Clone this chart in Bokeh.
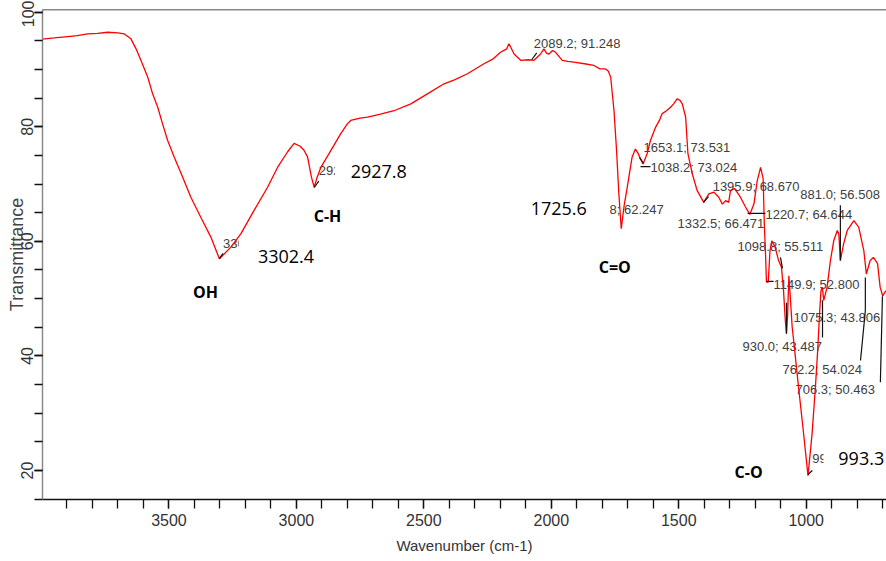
from bokeh.plotting import figure
from bokeh.models import Range1d, FixedTicker, Span
from bokeh.core.properties import value
from bokeh.embed import file_html
from bokeh.resources import INLINE

# ---------------- data ----------------
wavenumber = [3996, 3950, 3897, 3860, 3819, 3780, 3740, 3700, 3675, 3649, 3629, 3610,
              3583, 3564, 3544, 3525, 3505, 3479, 3446, 3414, 3375, 3335, 3302, 3257,
              3218, 3166, 3113, 3074, 3035, 3009, 2985, 2970, 2956, 2941, 2930, 2920,
              2904, 2865, 2826, 2800, 2787, 2750, 2721, 2670, 2617, 2551, 2486, 2421,
              2380, 2329, 2264, 2230, 2199, 2175, 2166, 2158, 2146, 2120, 2090, 2068,
              2042, 2029, 2018, 2009, 1995, 1983, 1957, 1935, 1911, 1870, 1833, 1809,
              1787, 1776, 1767, 1754, 1744, 1735, 1725.6, 1715, 1702, 1683, 1670, 1660,
              1653, 1640, 1624, 1611, 1591, 1575, 1565, 1548, 1532, 1520, 1506, 1495,
              1486, 1473, 1464, 1447, 1428, 1402, 1382, 1362, 1343, 1329, 1316, 1304,
              1297, 1281, 1258, 1238, 1221, 1205, 1192, 1179, 1169, 1164, 1160, 1156,
              1149, 1142, 1135, 1122, 1108, 1097, 1089, 1082, 1078, 1073, 1068, 1062,
              1055, 1050, 1030, 1013, 993, 977, 964, 955, 947, 942, 937, 931,
              918, 905, 892, 878, 872, 866, 853, 839, 813, 794, 774, 764,
              749, 736, 720, 710, 700, 687]
transmittance = [95.3, 95.5, 95.75, 95.9, 96.2, 96.3, 96.5, 96.4, 96.2, 95.35, 93.6, 91.6,
                 88.65, 85.75, 83.4, 80.5, 77.6, 74.7, 71.2, 67.7, 64.2, 60.7, 56.95, 59.0,
                 61.3, 65.4, 69.45, 72.9, 75.6, 77.1, 76.6, 75.9, 74.7, 71.2, 69.45, 71.0,
                 72.9, 75.85, 78.8, 80.5, 81.1, 81.5, 81.7, 82.2, 82.8, 84.0, 85.75, 87.5,
                 88.2, 89.25, 91.0, 91.8, 93.0, 93.6, 94.5, 93.8, 92.7, 91.6, 91.7, 91.6,
                 92.7, 93.6, 92.8, 92.7, 93.3, 93.0, 91.6, 91.4, 91.3, 91.0, 90.7, 90.1,
                 90.1, 89.7, 88.65, 82.8, 75.9, 68.3, 62.2, 66.0, 69.45, 74.7, 76.1, 75.4,
                 74.7, 73.5, 75.3, 77.6, 79.9, 81.2, 82.3, 82.8, 83.4, 84.0, 84.9, 84.6,
                 84.0, 81.7, 75.3, 71.8, 68.9, 66.8, 68.3, 68.6, 67.7, 66.5, 67.1, 66.8,
                 68.9, 69.2, 67.7, 66.0, 64.7, 66.55, 70.6, 72.9, 71.0, 62.5, 58.4, 52.9,
                 52.9, 58.4, 60.1, 59.0, 56.6, 55.5, 51.4, 46.2, 43.9, 47.0, 54.0, 50.0,
                 45.0, 43.0, 34.5, 27.6, 19.1, 26.4, 34.5, 40.9, 47.9, 51.4, 52.0, 49.7,
                 52.0, 56.65, 60.1, 61.9, 61.3, 56.65, 59.6, 61.9, 63.6, 62.5, 58.4, 54.3,
                 56.65, 57.2, 56.1, 52.0, 50.5, 51.4]

x_ticks = [3500, 3000, 2500, 2000, 1500, 1000]
x_minor_ticks = list(range(700, 4000, 100))
y_ticks = [20, 40, 60, 80, 100]
y_minor_ticks = list(range(15, 101, 5))

# software peak labels (small grey text)
peak_text = ["3302.4; 56.803", "2927.8; 69.620", "2089.2; 91.248", "1725.8; 62.247",
             "1653.1; 73.531", "1038.2; 73.024", "1395.9; 68.670", "1332.5; 66.471",
             "1220.7; 64.644", "881.0; 56.508", "1098.8; 55.511", "1149.9; 52.800",
             "1075.3; 43.806", "930.0; 43.487", "762.2; 54.024", "706.3; 50.463",
             "993.3"]
peak_text_x = [3288, 2912, 2069, 1899, 1638, 1611, 1367, 1505, 1160, 1023, 1270, 1128,
               1050, 1250, 1093, 1042, 976]
peak_text_y = [59.6, 72.4, 94.45, 65.6, 76.3, 72.9, 69.6, 63.1, 64.7, 68.2, 59.1, 52.5,
               46.7, 41.6, 37.6, 34.1, 22.1]

# leader lines from peaks to their labels
lead_x0 = [2077, 1654, 1650, 1403, 1230, 866, 1101, 1156, 1077, 936, 768, 768, 701, 3302, 2930, 993]
lead_y0 = [91.7, 74.6, 73.06, 66.8, 64.9, 66.3, 57.2, 53.0, 49.3, 49.7, 53.7, 47.9, 50.4, 57.0, 69.4, 19.3]
lead_x1 = [2057, 1638, 1611, 1383, 1160, 866, 1093, 1128, 1077, 936, 768, 787, 709, 3288, 2912, 976]
lead_y1 = [92.9, 73.6, 73.06, 67.8, 64.9, 56.65, 55.3, 53.0, 43.9, 43.2, 47.9, 39.2, 35.4, 57.9, 70.5, 20.0]

# white boxes behind the hand-added labels
box_left = [3226, 2849, 1908, 932]
box_right = [2845, 2544, 1771, 685]
box_top = [60.85, 73.76, 66.8, 23.3]
box_bottom = [58.2, 70.97, 64.3, 20.7]

big_text = ["3302.4", "2927.8", "1725.6", "993.3"]
big_x = [3151, 2787, 2081, 874]
big_y = [57.35, 72.2, 65.7, 22.1]

group_text = ["OH", "C-H", "C=O", "C-O"]
group_x = [3406, 2932, 1814, 1281]
group_y = [51.1, 64.5, 55.6, 19.8]

# ---------------- figure ----------------
p = figure(width=886, height=561,
           x_range=Range1d(3996, 685), y_range=Range1d(14.94, 100.47),
           output_backend="svg", toolbar_location=None,
           min_border_left=42, min_border_right=0, min_border_top=9, min_border_bottom=62,
           background_fill_color="white", border_fill_color="white")
p.outline_line_color = None
p.xgrid.visible = False
p.ygrid.visible = False

p.add_layout(Span(location=100.47, dimension="width", line_color="#111111", line_width=1.5))

ax = p.xaxis[0]
ax.ticker = FixedTicker(ticks=x_ticks, minor_ticks=x_minor_ticks)
ax.axis_line_color = "#111111"
ax.axis_line_width = 1.5
ax.major_tick_out = 9
ax.major_tick_in = 0
ax.minor_tick_out = 9
ax.minor_tick_in = 0
ax.major_tick_line_color = "#111111"
ax.minor_tick_line_color = "#111111"
ax.major_tick_line_width = 1.3
ax.minor_tick_line_width = 1.3
ax.major_label_text_font = "Liberation Sans"
ax.major_label_text_font_size = "16px"
ax.major_label_text_color = "#333333"
ax.major_label_standoff = 5
ax.axis_label = "Wavenumber (cm-1)"
ax.axis_label_text_font = "Liberation Sans"
ax.axis_label_text_font_size = "15px"
ax.axis_label_text_font_style = "normal"
ax.axis_label_text_color = "#333333"
ax.axis_label_standoff = 8

ay = p.yaxis[0]
ay.ticker = FixedTicker(ticks=y_ticks, minor_ticks=y_minor_ticks)
ay.axis_line_color = "#8a8a8a"
ay.axis_line_width = 1.5
ay.major_tick_out = 8
ay.major_tick_in = 0
ay.minor_tick_out = 8
ay.minor_tick_in = 0
ay.major_tick_line_color = "#111111"
ay.minor_tick_line_color = "#111111"
ay.major_tick_line_width = 1.3
ay.minor_tick_line_width = 1.3
ay.major_label_orientation = "vertical"
ay.major_label_text_font = "Liberation Sans"
ay.major_label_text_font_size = "16px"
ay.major_label_text_color = "#333333"
ay.major_label_standoff = 1
ay.axis_label = "Transmittance"
ay.axis_label_text_font = "Liberation Sans"
ay.axis_label_text_font_size = "18px"
ay.axis_label_text_font_style = "normal"
ay.axis_label_text_color = "#444444"
ay.axis_label_standoff = -8

# small peak labels
p.text(x=peak_text_x, y=peak_text_y, text=peak_text,
       text_font=value("Liberation Sans"), text_font_size="13px",
       text_color="#404040", text_align="left", text_baseline="middle")

# white boxes that hide parts of them
p.quad(left=box_left, right=box_right, top=box_top, bottom=box_bottom,
       fill_color="white", line_color=None)

# spectrum
p.line(wavenumber, transmittance, line_color="#ff0000", line_width=1.3)

# leaders
p.segment(x0=lead_x0, y0=lead_y0, x1=lead_x1, y1=lead_y1, line_color="#111111", line_width=1.2)

# hand-added labels
p.text(x=big_x, y=big_y, text=big_text,
       text_font=value("Open Sans"), text_font_size="18px",
       text_color="black", text_align="left", text_baseline="middle")
p.text(x=group_x, y=group_y, text=group_text,
       text_font=value("Open Sans"), text_font_size="16px", text_font_style="bold",
       text_color="black", text_align="left", text_baseline="middle")

open("out.html", "w").write(file_html(p, INLINE))
